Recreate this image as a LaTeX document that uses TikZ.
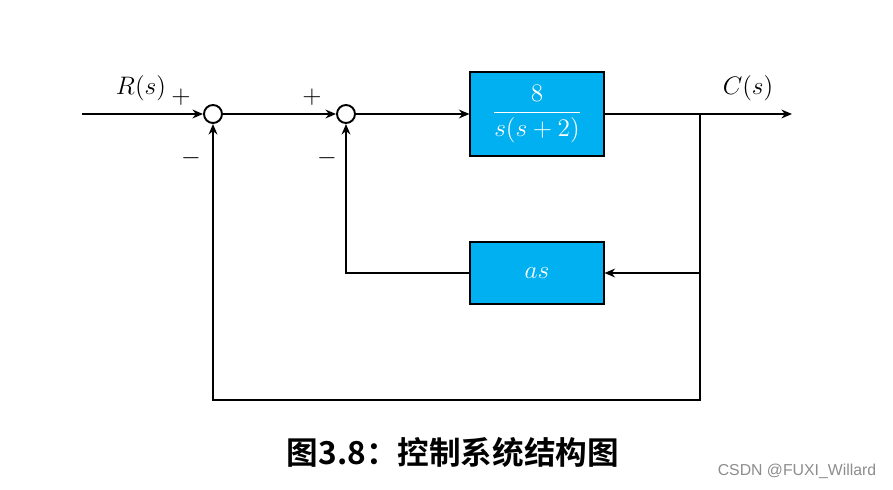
\documentclass[tikz,border=0pt]{standalone}
\usepackage{amsmath}
\usepackage{fontspec}
\newfontfamily\cjk{Noto Sans CJK SC}[BoldFont={Noto Sans CJK SC Bold}]
\newfontfamily\wmfont{Liberation Sans}
\usetikzlibrary{arrows.meta,positioning}
\definecolor{blockblue}{RGB}{0,176,240}

\begin{document}
\begin{tikzpicture}[x=0.02cm, y=-0.02cm,
  sig/.style={line width=1.1pt, -{Stealth[length=6pt,width=5pt]}},
  sumnode/.style={circle, draw, line width=1.1pt, minimum size=0.36cm, inner sep=0pt},
  blk/.style={draw, line width=0.6pt, fill=blockblue, text=white, minimum width=2.68cm,
              font=\fontsize{15}{17}\selectfont},
  sgn/.style={font=\fontsize{14}{16}\selectfont}]
  \useasboundingbox (0,0) rectangle (893,490);
  % junctions and blocks
  \node[sumnode] (sumA) at (213,114) {};
  \node[sumnode] (sumB) at (346,114) {};
  \node[blk, minimum height=1.68cm] (plant) at (537,114) {$\dfrac{8}{s(s+2)}$};
  \node[blk, minimum height=1.24cm] (fb) at (537,273) {$as$};
  \coordinate (in) at (82,114);
  \coordinate (out) at (792,114);
  \coordinate (tap) at (700,114);
  \coordinate (low) at (700,400);
  % forward path
  \draw[sig] (in) -- (sumA);
  \draw[sig] (sumA) -- (sumB);
  \draw[sig] (sumB) -- (plant);
  \draw[sig] (plant) -- (out);
  % feedback loops
  \draw[sig] (tap) -- (low) -| (sumA);
  \draw[sig] (tap |- fb) -- (fb);
  \draw[sig] (fb) -| (sumB);
  % signs and signals
  \node[sgn] (Rlab) at (141,88) {$R(s)$};
  \node[sgn] (Clab) at (748,88) {$C(s)$};
  \foreach \nm/\px/\py/\s in {pA/181/97/+, mA/191/158/-, pB/312/97/+, mB/327/158/-}{
    \node[sgn] (\nm) at (\px,\py) {$\s$}; }
  \node (cap) at (453,452) {\cjk\bfseries\fontsize{18}{20}\selectfont 图3.8：控制系统结构图};
  \node[text=black!45, font=\wmfont\fontsize{9}{10}\selectfont] (wm) at (797,471) {CSDN @FUXI\_Willard};
\end{tikzpicture}
\end{document}
